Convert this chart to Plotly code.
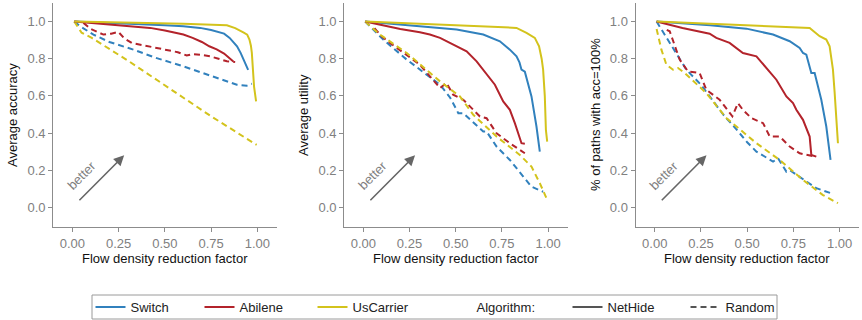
import plotly.graph_objects as go

# ---------------- data ----------------
series_names = ["Switch", "Abilene", "UsCarrier"]
algorithm_names = ["NetHide", "Random"]
y_titles = ["Average accuracy", "Average utility", "% of paths with acc=100%"]
x_title = "Flow density reduction factor"
x_ticks = [0.0, 0.25, 0.5, 0.75, 1.0]
y_ticks = [0.0, 0.2, 0.4, 0.6, 0.8, 1.0]

# Panel 1: average accuracy
acc_switch_nethide_x = [0.01, 0.3, 0.5, 0.6, 0.69, 0.75, 0.78, 0.82, 0.85, 0.87, 0.89, 0.91, 0.93, 0.95]
acc_switch_nethide_y = [1.0, 0.99, 0.98, 0.975, 0.966, 0.955, 0.948, 0.935, 0.912, 0.89, 0.867, 0.83, 0.785, 0.74]
acc_abilene_nethide_x = [0.01, 0.1, 0.24, 0.33, 0.42, 0.5, 0.56, 0.6, 0.65, 0.7, 0.74, 0.78, 0.82, 0.85, 0.87]
acc_abilene_nethide_y = [1.0, 0.993, 0.984, 0.976, 0.966, 0.952, 0.939, 0.93, 0.912, 0.89, 0.867, 0.85, 0.828, 0.80, 0.785]
acc_uscarrier_nethide_x = [0.01, 0.3, 0.6, 0.835, 0.88, 0.924, 0.945, 0.957, 0.965, 0.97, 0.976, 0.982, 0.993]
acc_uscarrier_nethide_y = [1.0, 0.995, 0.988, 0.98, 0.965, 0.942, 0.93, 0.903, 0.87, 0.831, 0.75, 0.65, 0.57]
acc_switch_random_x = [0.01, 0.05, 0.114, 0.2, 0.33, 0.45, 0.6, 0.7, 0.78, 0.84, 0.889, 0.943, 0.97]
acc_switch_random_y = [1.0, 0.97, 0.93, 0.89, 0.849, 0.805, 0.759, 0.725, 0.696, 0.675, 0.66, 0.655, 0.665]
acc_abilene_random_x = [0.06, 0.1, 0.168, 0.21, 0.249, 0.28, 0.321, 0.37, 0.42, 0.51, 0.57, 0.618, 0.65, 0.7, 0.744, 0.79, 0.835, 0.88]
acc_abilene_random_y = [0.993, 0.96, 0.93, 0.935, 0.944, 0.91, 0.885, 0.875, 0.867, 0.849, 0.835, 0.817, 0.825, 0.82, 0.813, 0.80, 0.786, 0.782]
acc_uscarrier_random_x = [0.01, 0.05, 0.105, 0.3, 0.519, 0.75, 0.996]
acc_uscarrier_random_y = [1.0, 0.94, 0.912, 0.79, 0.644, 0.49, 0.336]

# Panel 2: average utility
util_switch_nethide_x = [0.01, 0.3, 0.505, 0.649, 0.739, 0.793, 0.829, 0.845, 0.856, 0.874, 0.89, 0.91, 0.937, 0.955]
util_switch_nethide_y = [1.0, 0.975, 0.957, 0.93, 0.894, 0.849, 0.813, 0.78, 0.741, 0.73, 0.67, 0.597, 0.435, 0.3]
util_abilene_nethide_x = [0.01, 0.1, 0.2, 0.306, 0.36, 0.415, 0.46, 0.505, 0.559, 0.613, 0.667, 0.712, 0.757, 0.793, 0.82, 0.838, 0.856, 0.874]
util_abilene_nethide_y = [1.0, 0.98, 0.96, 0.942, 0.93, 0.912, 0.89, 0.867, 0.84, 0.786, 0.714, 0.66, 0.57, 0.525, 0.453, 0.40, 0.345, 0.342]
util_uscarrier_nethide_x = [0.01, 0.5, 0.829, 0.883, 0.928, 0.951, 0.965, 0.973, 0.982, 0.988, 0.995]
util_uscarrier_nethide_y = [1.0, 0.98, 0.966, 0.939, 0.912, 0.867, 0.8, 0.741, 0.6, 0.417, 0.354]
util_switch_random_x = [0.01, 0.108, 0.235, 0.415, 0.47, 0.514, 0.541, 0.6, 0.649, 0.667, 0.721, 0.793, 0.865, 0.91, 0.973]
util_switch_random_y = [1.0, 0.903, 0.795, 0.66, 0.59, 0.507, 0.507, 0.45, 0.408, 0.408, 0.327, 0.255, 0.165, 0.111, 0.084]
util_abilene_random_x = [0.06, 0.1, 0.144, 0.306, 0.415, 0.45, 0.486, 0.541, 0.595, 0.631, 0.667, 0.721, 0.793, 0.874]
util_abilene_random_y = [0.965, 0.92, 0.885, 0.768, 0.642, 0.669, 0.606, 0.579, 0.525, 0.489, 0.48, 0.399, 0.345, 0.291]
util_uscarrier_random_x = [0.01, 0.09, 0.235, 0.415, 0.523, 0.595, 0.721, 0.847, 0.91, 0.955, 0.991]
util_uscarrier_random_y = [1.0, 0.93, 0.831, 0.678, 0.597, 0.498, 0.381, 0.282, 0.219, 0.13, 0.049]

# Panel 3: share of paths with 100% accuracy
full_switch_nethide_x = [0.01, 0.3, 0.496, 0.64, 0.73, 0.784, 0.802, 0.82, 0.847, 0.865, 0.901, 0.928, 0.951]
full_switch_nethide_y = [1.0, 0.98, 0.962, 0.93, 0.894, 0.858, 0.831, 0.822, 0.723, 0.723, 0.579, 0.435, 0.255]
full_abilene_nethide_x = [0.01, 0.15, 0.297, 0.333, 0.405, 0.477, 0.55, 0.604, 0.658, 0.712, 0.748, 0.766, 0.802, 0.838, 0.847, 0.874]
full_abilene_nethide_y = [1.0, 0.965, 0.935, 0.912, 0.885, 0.831, 0.813, 0.75, 0.687, 0.597, 0.561, 0.525, 0.471, 0.381, 0.282, 0.273]
full_uscarrier_nethide_x = [0.01, 0.5, 0.838, 0.892, 0.928, 0.946, 0.964, 0.973, 0.982, 0.991]
full_uscarrier_nethide_y = [1.0, 0.98, 0.966, 0.921, 0.903, 0.867, 0.741, 0.62, 0.471, 0.345]
full_switch_random_x = [0.01, 0.081, 0.171, 0.25, 0.33, 0.37, 0.45, 0.5, 0.55, 0.64, 0.667, 0.712, 0.73, 0.784, 0.874, 0.964]
full_switch_random_y = [1.0, 0.885, 0.741, 0.66, 0.55, 0.5, 0.41, 0.35, 0.30, 0.246, 0.264, 0.192, 0.2, 0.165, 0.103, 0.072]
full_abilene_random_x = [0.065, 0.081, 0.135, 0.18, 0.243, 0.279, 0.351, 0.42, 0.45, 0.477, 0.523, 0.586, 0.622, 0.676, 0.73, 0.784, 0.865]
full_abilene_random_y = [0.955, 0.948, 0.795, 0.732, 0.723, 0.633, 0.579, 0.49, 0.56, 0.525, 0.48, 0.453, 0.381, 0.381, 0.327, 0.291, 0.273]
full_uscarrier_random_x = [0.01, 0.036, 0.063, 0.099, 0.126, 0.162, 0.279, 0.388, 0.55, 0.676, 0.802, 0.91, 0.991]
full_uscarrier_random_y = [0.96, 0.849, 0.768, 0.741, 0.75, 0.723, 0.615, 0.48, 0.345, 0.255, 0.147, 0.066, 0.022]

# ---------------- styling ----------------
FONT = "Liberation Sans, Arial, sans-serif"
COLORS = {"Switch": "#3181bd", "Abilene": "#b3232b", "UsCarrier": "#d3c31c"}
DASHES = {"NetHide": "solid", "Random": "6px,4px"}
AXIS_GREY = "#8c8c8c"
TICK_GREY = "#808080"

panels = [
    {
        "Switch": [(acc_switch_nethide_x, acc_switch_nethide_y), (acc_switch_random_x, acc_switch_random_y)],
        "Abilene": [(acc_abilene_nethide_x, acc_abilene_nethide_y), (acc_abilene_random_x, acc_abilene_random_y)],
        "UsCarrier": [(acc_uscarrier_nethide_x, acc_uscarrier_nethide_y), (acc_uscarrier_random_x, acc_uscarrier_random_y)],
    },
    {
        "Switch": [(util_switch_nethide_x, util_switch_nethide_y), (util_switch_random_x, util_switch_random_y)],
        "Abilene": [(util_abilene_nethide_x, util_abilene_nethide_y), (util_abilene_random_x, util_abilene_random_y)],
        "UsCarrier": [(util_uscarrier_nethide_x, util_uscarrier_nethide_y), (util_uscarrier_random_x, util_uscarrier_random_y)],
    },
    {
        "Switch": [(full_switch_nethide_x, full_switch_nethide_y), (full_switch_random_x, full_switch_random_y)],
        "Abilene": [(full_abilene_nethide_x, full_abilene_nethide_y), (full_abilene_random_x, full_abilene_random_y)],
        "UsCarrier": [(full_uscarrier_nethide_x, full_uscarrier_nethide_y), (full_uscarrier_random_x, full_uscarrier_random_y)],
    },
]

W, H = 862, 320
PLOT_TOP, PLOT_BOTTOM = 3, 227
domains_px = [(53.3, 277.0), (344.3, 567.7), (635.7, 859.2)]
title_x_px = [12, 303, 595]
legend_box_px = (92, 295, 777, 319)  # left, top, right, bottom


def paper_y(px):
    return (PLOT_BOTTOM - px) / (PLOT_BOTTOM - PLOT_TOP)


fig = go.Figure()

# curves: draw random (dashed) first, then NetHide (solid) on top
for p, panel in enumerate(panels):
    xa = "x" if p == 0 else f"x{p + 1}"
    ya = "y" if p == 0 else f"y{p + 1}"
    for algo_idx in (1, 0):
        for name in series_names:
            xs, ys = panel[name][algo_idx]
            fig.add_trace(go.Scatter(
                x=xs, y=ys, mode="lines", xaxis=xa, yaxis=ya, showlegend=False,
                line=dict(color=COLORS[name], width=2, dash=DASHES[algorithm_names[algo_idx]]),
                hoverinfo="skip",
            ))

# legend entries
legend_widths = {"Switch": 64, "Abilene": 68, "UsCarrier": 79, "Algorithm:": 86, "NetHide": 73, "Random": 50}
for name in series_names:
    fig.add_trace(go.Scatter(x=[None], y=[None], mode="lines", name=name,
                             line=dict(color=COLORS[name], width=2), legendwidth=legend_widths[name]))
fig.add_trace(go.Scatter(x=[None], y=[None], mode="lines", name="Algorithm:",
                         line=dict(color="rgba(0,0,0,0)", width=2), legendwidth=legend_widths["Algorithm:"]))
for algo in algorithm_names:
    fig.add_trace(go.Scatter(x=[None], y=[None], mode="lines", name=algo,
                             line=dict(color="#555555", width=2, dash=DASHES[algo]),
                             legendwidth=legend_widths[algo]))

lx0, ly0, lx1, ly1 = legend_box_px
layout = dict(
    width=W, height=H,
    margin=dict(l=0, r=0, t=PLOT_TOP, b=H - PLOT_BOTTOM, autoexpand=False),
    paper_bgcolor="white", plot_bgcolor="white",
    font=dict(family=FONT, size=13, color="#222222"),
    showlegend=True,
    legend=dict(
        orientation="h", x=435.5 / W, xanchor="center",
        yref="container", y=1 - (ly0 + ly1) / 2 / H, yanchor="middle",
        borderwidth=0, bgcolor="rgba(0,0,0,0)",
        font=dict(family=FONT, size=13, color="#222222"),
        traceorder="normal",
    ),
    shapes=[dict(
        type="rect", xref="paper", yref="paper",
        x0=lx0 / W, x1=lx1 / W, y0=paper_y(ly1), y1=paper_y(ly0),
        line=dict(color="#9a9a9a", width=1), fillcolor="rgba(0,0,0,0)",
    )],
)

annotations = []
for p in range(3):
    sfx = "" if p == 0 else str(p + 1)
    d0, d1 = domains_px[p]
    layout[f"xaxis{sfx}"] = dict(
        domain=[d0 / W, d1 / W], range=[-0.103, 1.106], anchor=f"y{sfx}",
        showline=True, linecolor=AXIS_GREY, linewidth=1.3,
        showgrid=False, zeroline=False,
        ticks="outside", ticklen=4, tickwidth=1, tickcolor=AXIS_GREY,
        tickvals=x_ticks, tickformat=".2f",
        tickfont=dict(family=FONT, size=13, color=TICK_GREY),
    )
    layout[f"yaxis{sfx}"] = dict(
        domain=[0, 1], range=[-0.106, 1.1], anchor=f"x{sfx}",
        showline=True, linecolor=AXIS_GREY, linewidth=1.3,
        showgrid=False, zeroline=False,
        ticks="outside", ticklen=4, tickwidth=1, tickcolor=AXIS_GREY,
        tickvals=y_ticks, tickformat=".1f",
        tickfont=dict(family=FONT, size=13, color=TICK_GREY),
    )
    # axis titles
    annotations.append(dict(
        text=x_title, xref="paper", yref="paper", x=(d0 + d1) / 2 / W, y=paper_y(258.3),
        xanchor="center", yanchor="middle", showarrow=False,
        font=dict(family=FONT, size=13, color="#111111"),
    ))
    annotations.append(dict(
        text=y_titles[p], xref="paper", yref="paper", x=title_x_px[p] / W, y=0.5,
        xanchor="center", yanchor="middle", showarrow=False, textangle=-90,
        font=dict(family=FONT, size=13, color="#111111"),
    ))
    # "better" arrow
    annotations.append(dict(
        x=0.28, y=0.28, ax=0.03, ay=0.03,
        xref=f"x{sfx}", yref=f"y{sfx}", axref=f"x{sfx}", ayref=f"y{sfx}",
        text="", showarrow=True, arrowhead=2, arrowsize=1.3, arrowwidth=1.6, arrowcolor="#666666",
    ))
    annotations.append(dict(
        x=0.05, y=0.17, xref=f"x{sfx}", yref=f"y{sfx}", text="better",
        textangle=-45, showarrow=False, xanchor="center", yanchor="middle",
        font=dict(family=FONT, size=13, color="#808080"),
    ))

layout["annotations"] = annotations
fig.update_layout(**layout)

fig.write_html("out.html")
